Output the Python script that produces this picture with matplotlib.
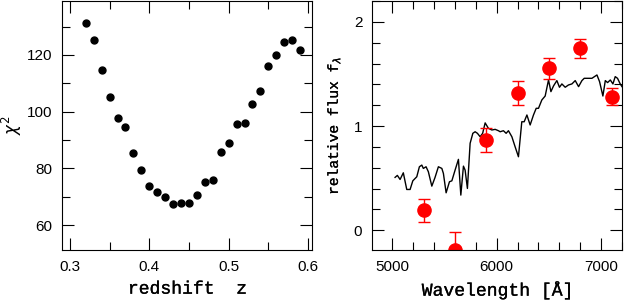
""" chi^2 versus redshift and SED fit, two panels """
import matplotlib.pyplot as plt
import matplotlib.patheffects as pe
from matplotlib.ticker import MultipleLocator

# left panel: chi^2 of the fit at each trial redshift
redshift = [0.32, 0.33, 0.34, 0.35, 0.36, 0.37, 0.38, 0.39, 0.40, 0.41,
            0.42, 0.43, 0.44, 0.45, 0.46, 0.47, 0.48, 0.49, 0.50, 0.51,
            0.52, 0.53, 0.54, 0.55, 0.56, 0.57, 0.58, 0.59]
chi2 = [131.2, 125.3, 114.7, 105.1, 97.6, 94.5, 85.4, 79.4, 73.9, 71.5,
        69.8, 67.3, 67.9, 67.8, 70.7, 75.2, 75.9, 85.8, 88.8, 95.6,
        96.1, 102.6, 107.4, 116.1, 119.9, 124.5, 125.3, 121.8]

# right panel: photometric points
phot_wave = [5300, 5600, 5900, 6200, 6500, 6800, 7100]
phot_flux = [0.19, -0.19, 0.865, 1.314, 1.554, 1.747, 1.282]
phot_err = [0.107, 0.17, 0.117, 0.114, 0.10, 0.093, 0.08]

# model spectrum
model_wave = [5026, 5048, 5074, 5105, 5138, 5170, 5196, 5234, 5259, 5282,
              5297, 5323, 5345, 5378, 5409, 5441, 5474, 5489, 5515, 5547,
              5570, 5601, 5633, 5656, 5681, 5697, 5719, 5745, 5771, 5793,
              5815, 5841, 5865, 5889, 5920, 5953, 5985, 6016, 6033, 6064,
              6090, 6112, 6145, 6176, 6208, 6240, 6263, 6289, 6320, 6352,
              6378, 6400, 6432, 6464, 6496, 6519, 6544, 6576, 6601, 6624,
              6656, 6687, 6720, 6752, 6784, 6816, 6838, 6870, 6912, 6960,
              6985, 7017, 7040, 7062, 7088, 7113, 7135, 7157, 7183, 7200]
model_flux = [0.507, 0.526, 0.487, 0.551, 0.391, 0.391, 0.474, 0.513, 0.609, 0.625,
              0.593, 0.609, 0.561, 0.423, 0.507, 0.609, 0.593, 0.545, 0.359, 0.465,
              0.474, 0.577, 0.680, 0.337, 0.615, 0.577, 0.401, 0.834, 0.930, 0.945,
              0.930, 0.897, 0.930, 1.030, 0.978, 0.962, 0.968, 0.955, 0.945, 0.955,
              0.930, 0.955, 0.897, 0.801, 0.705, 1.041, 1.041, 1.106, 1.010, 1.106,
              1.170, 1.170, 1.250, 1.288, 1.442, 1.330, 1.385, 1.436, 1.372, 1.404,
              1.372, 1.394, 1.404, 1.436, 1.378, 1.436, 1.458, 1.458, 1.458, 1.490,
              1.426, 1.288, 1.436, 1.417, 1.442, 1.404, 1.474, 1.458, 1.404, 1.378]

tick_font = 'Liberation Sans'
label_font = 'Liberation Mono'
# regular mono face, thickened a little to look like the original's labels
thicken = [pe.withStroke(linewidth=0.2, foreground='black')]


def style_axes(ax):
    ax.tick_params(which='both', direction='in', top=True, right=True,
                   width=0.8, labelsize=11, pad=7)
    ax.tick_params(which='major', length=8.5)
    ax.tick_params(which='minor', length=5.5)
    for s in ax.spines.values():
        s.set_linewidth(0.8)
    for lab in ax.get_xticklabels() + ax.get_yticklabels():
        lab.set_fontfamily(tick_font)


fig = plt.figure(figsize=(6.24, 3.04), dpi=100)
ax1 = fig.add_axes([62 / 624, 1 - 250 / 304, 250 / 624, 249 / 304])
ax2 = fig.add_axes([372 / 624, 1 - 250 / 304, 250 / 624, 249 / 304])

ax1.plot(redshift, chi2, 'o', color='black', markersize=5)
ax1.set_xlim(0.29, 0.605)
ax1.set_ylim(51.2, 139.0)
ax1.xaxis.set_major_locator(MultipleLocator(0.1))
ax1.xaxis.set_minor_locator(MultipleLocator(0.05))
ax1.yaxis.set_major_locator(MultipleLocator(20))
ax1.yaxis.set_minor_locator(MultipleLocator(10))
ax1.set_xticks([0.3, 0.4, 0.5, 0.6], ['0.3', '0.4', '0.5', '0.6'])
ax1.set_xlabel('redshift  z', family=label_font, fontsize=13, labelpad=5,
               path_effects=thicken)
ax1.set_ylabel(r'$\chi^2$', fontsize=12, labelpad=2)
style_axes(ax1)

ax2.plot(model_wave, model_flux, color='black', linewidth=1.0)
ax2.errorbar(phot_wave, phot_flux, yerr=phot_err, fmt='o', color='#ff0000',
             markersize=9.5, capsize=4, elinewidth=1, capthick=1)
ax2.set_xlim(4805, 7200)
ax2.set_ylim(-0.19, 2.2)
ax2.xaxis.set_major_locator(MultipleLocator(1000))
ax2.xaxis.set_minor_locator(MultipleLocator(200))
ax2.yaxis.set_major_locator(MultipleLocator(1))
ax2.yaxis.set_minor_locator(MultipleLocator(0.2))
ax2.set_xlabel('Wavelength [Å]', family=label_font, fontsize=13, labelpad=5,
               path_effects=thicken)
ax2.set_ylabel(r'relative flux f$_\lambda$', family=label_font, fontsize=10.5,
               labelpad=8, path_effects=thicken)
style_axes(ax2)

fig.savefig('out.png', dpi=100)
